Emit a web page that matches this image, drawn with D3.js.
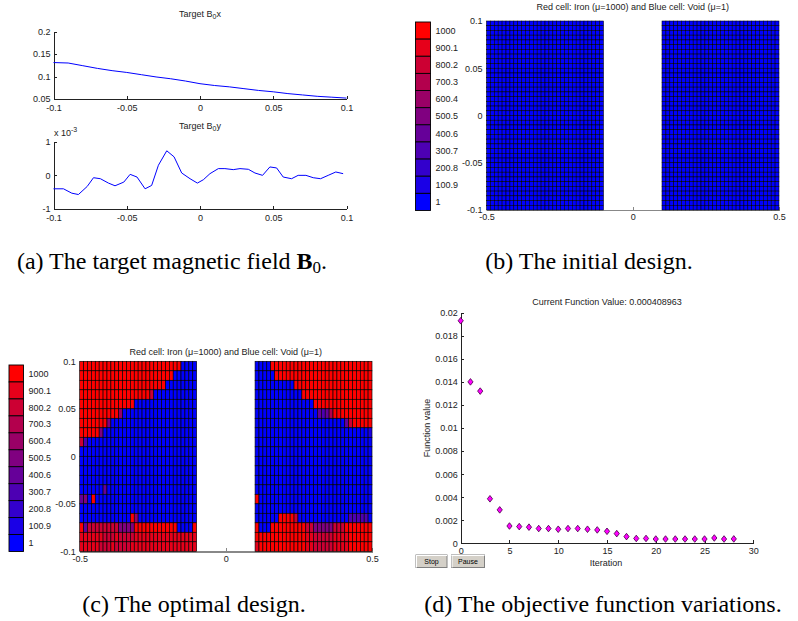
<!DOCTYPE html>
<html><head><meta charset="utf-8">
<script src="https://cdn.jsdelivr.net/npm/d3@7"></script>
<style>
body{margin:0;background:#fff}
svg{display:block}
.ax text,.lbl{font-family:"Liberation Sans",Arial,sans-serif;font-size:9px;fill:#222}
.ax path,.ax line{stroke:#222;shape-rendering:crispEdges}
.gray path,.gray line{stroke:#888}
.cap{font-family:"Liberation Serif","Times New Roman",serif;font-size:24px;fill:#000}
.btn{font-family:"Liberation Sans",Arial,sans-serif;font-size:7px;fill:#000}
</style></head><body>
<svg id="c" width="798" height="621"></svg>
<script>
// ---------- (a) target field ----------
const b0Ticks = [-0.1, -0.05, 0, 0.05, 0.1];
const b0TickLabels = ["-0.1", "-0.05", "0", "0.05", "0.1"];
const b0xPos = [-0.1,-0.09,-0.08,-0.07,-0.06,-0.05,-0.04,-0.03,-0.02,-0.01,0,0.01,0.02,0.03,0.04,0.05,0.06,0.07,0.08,0.09,0.1];
const b0xVal = [0.131,0.130,0.124,0.118,0.113,0.109,0.104,0.099,0.095,0.090,0.084,0.080,0.077,0.073,0.069,0.066,0.062,0.059,0.056,0.054,0.052];
const b0xYTicks = [0.05, 0.1, 0.15, 0.2];
const b0xYTickLabels = ["0.05", "0.1", "0.15", "0.2"];
const b0yPos = [-0.1,-0.0932,-0.0875,-0.083,-0.077,-0.0727,-0.068,-0.0625,-0.058,-0.052,-0.0477,-0.043,-0.0375,-0.033,-0.0284,-0.0227,-0.0177,-0.0125,-0.0068,-0.0018,0.0023,0.0068,0.0125,0.017,0.0227,0.0273,0.033,0.0375,0.0427,0.0477,0.0523,0.0568,0.0625,0.067,0.0723,0.0773,0.0823,0.0875,0.0927,0.0977];
const b0yVal = [-0.40,-0.40,-0.53,-0.57,-0.33,-0.07,-0.10,-0.23,-0.31,-0.20,0.03,-0.05,-0.40,-0.30,0.30,0.73,0.55,0.07,-0.10,-0.23,-0.13,0.05,0.20,0.20,0.17,0.20,0.18,0.07,0.00,0.25,0.22,-0.05,-0.10,0.00,0.00,-0.07,-0.10,0.00,0.10,0.05]; // x 1e-3
const b0yYTicks = [-1, 0, 1];
const b0yYTickLabels = ["-1", "0", "1"];

// ---------- (b),(c) designs ----------
const muLabels = ["1","100.9","200.8","300.7","400.6","500.5","600.4","700.3","800.2","900.1","1000"];
const designX = [-0.5, 0.5];
const designY = [-0.1, 0.1];
const designBlocks = [[-0.5, -0.1], [0.1, 0.5]];
const designXTicks = [-0.5, 0, 0.5];
const designXTickLabels = ["-0.5", "0", "0.5"];
const designYTicks = [-0.1, -0.05, 0, 0.05, 0.1];
const designYTickLabels = ["-0.1", "-0.05", "0", "0.05", "0.1"];
const designTitle = "Red cell: Iron (\u03bc=1000) and Blue cell: Void (\u03bc=1)";
// initial design: every cell is void (level 0)
const initialDesignRow = "000000000000000000000000000000";
const initialRowCount = 40;
// optimal design: level per cell (0 = 1, A = 1000), top row first
const optimalLeft = [
"AAAAAAAAAAAAAAAAAAAAAAAAAA0000",
"AAAAAAAAAAAAAAAAAAAAAAAA000000",
"AAAAAAAAAAAAAAAAAAAAAA00000000",
"AAAAAAAAAAAAAAAAAA800000000000",
"AAAAAAAAAAAAAA0000000000000000",
"AAAAAAAAAA60000000000000000000",
"AAAAAAA50000000000000000000000",
"AAAAA5000000000000000000000000",
"830000000000000000000000000000",
"000000000000000000000000000000",
"000000000000000000000000000000",
"000000000000000000000000000000",
"000000000000000000000000000000",
"000000400000000000000000000000",
"450A00000000000000000000000000",
"000000000000000000000000000000",
"0000000000000A6000000000000000",
"A4888888885555AAAAAAAAAAA0000A",
"999999888988889999999999999999",
"999998889888899999999999999999"];
const optimalRight = [
"0000AAAAAAAAAAAAAAAAAAAAAAAAAA",
"00000AAAAAAAAAAAAAAAAAAAAAAAAA",
"0000000000AAAAAAAAAAAAAAAAAAAA",
"000000000000AAAAAAAAAAAAAAAAAA",
"000000000000000AAAAAAAAAAAAAAA",
"00000000000000004347AAAAAAAAAA",
"0000000000000000000000048AAAAA",
"000000000000000000000000000001",
"000000000000000000000000000000",
"000000000000000000000000000000",
"000000000000000000000000000000",
"000000000000000000000000000000",
"000000000000000000000000000000",
"000000000000000000000000000000",
"A00000000000000000000000000000",
"000000000000000000000000000000",
"000000AAAA80000000000000333330",
"A000AAAAAAAAA8855555888AAAAAAA",
"AAAAAAAAAAAAA99888889999AAAAAA",
"9AAAAAAAAAAAA99888889999AAAAAA"];

// ---------- (d) objective ----------
const iterations = [0,1,2,3,4,5,6,7,8,9,10,11,12,13,14,15,16,17,18,19,20,21,22,23,24,25,26,27,28];
const fValues = [0.0193,0.0140,0.0132,0.00386,0.0029,0.0015,0.00145,0.0014,0.00128,0.00128,0.00122,0.00128,0.00128,0.00122,0.00116,0.00104,0.00084,0.00058,0.00042,0.00042,0.00037,0.00037,0.00037,0.00037,0.00037,0.00037,0.00046,0.00037,0.00038];
const iterTicks = [0,5,10,15,20,25,30];
const fTicks = [0,0.002,0.004,0.006,0.008,0.01,0.012,0.014,0.016,0.018,0.02];
const fTickLabels = ["0","0.002","0.004","0.006","0.008","0.01","0.012","0.014","0.016","0.018","0.02"];
const objTitle = "Current Function Value: 0.000408963";
const buttonLabels = ["Stop", "Pause"];

const svg = d3.select("#c");
svg.append("rect").attr("width",798).attr("height",621).attr("fill","#fff");

const levelColor = lv => d3.rgb(Math.round(25.5*lv), 0, Math.round(255-25.5*lv)).toString();

// ===== (a) =====
function linePanel(cfg){
  const x = d3.scaleLinear().domain([-0.1,0.1]).range([53.5,346.5]);
  const y = d3.scaleLinear().domain(cfg.yDomain).range([cfg.yBottom, cfg.yTop]);
  svg.append("g").attr("class","ax").attr("transform",`translate(0,${cfg.yBottom})`)
    .call(d3.axisBottom(x).tickValues(b0Ticks).tickFormat((d,i)=>b0TickLabels[i]).tickSize(-3).tickSizeOuter(0).tickPadding(6));
  svg.append("g").attr("class","ax").attr("transform",`translate(53.5,0)`)
    .call(d3.axisLeft(y).tickValues(cfg.yTicks).tickFormat((d,i)=>cfg.yLabels[i]).tickSize(-3).tickSizeOuter(0).tickPadding(3));
  svg.append("path").datum(d3.zip(cfg.xs, cfg.ys))
    .attr("fill","none").attr("stroke","#0000ff").attr("stroke-width",1)
    .attr("d", d3.line().x(d=>x(d[0])).y(d=>y(d[1])));
  const t = svg.append("text").attr("class","lbl").attr("x",200).attr("y",cfg.titleY).attr("text-anchor","middle");
  t.append("tspan").text("Target B");
  t.append("tspan").attr("dy",2).attr("font-size","7px").text("0");
  t.append("tspan").attr("dy",-2).text(cfg.comp);
}
linePanel({yDomain:[0.05,0.2], yBottom:99, yTop:31.5, yTicks:b0xYTicks, yLabels:b0xYTickLabels, xs:b0xPos, ys:b0xVal, titleY:17, comp:"x"});
linePanel({yDomain:[-1,1], yBottom:209, yTop:141.7, yTicks:b0yYTicks, yLabels:b0yYTickLabels, xs:b0yPos, ys:b0yVal, titleY:129, comp:"y"});
{
  const e = svg.append("text").attr("class","lbl").attr("x",54).attr("y",136);
  e.append("tspan").text("x 10");
  e.append("tspan").attr("dy",-4).attr("font-size","7px").text("-3");
}

// ===== (b),(c) =====
function drawDesign(cfg){
  const x = d3.scaleLinear().domain(designX).range([cfg.x0, cfg.x1]);
  const y = d3.scaleLinear().domain(designY).range([cfg.y1, cfg.y0]);
  svg.append("g").attr("class","ax gray").attr("transform",`translate(0,${cfg.y1})`)
    .call(d3.axisBottom(x).tickValues(designXTicks).tickFormat((d,i)=>designXTickLabels[i]).tickSize(-3).tickSizeOuter(0).tickPadding(4))
    .call(g=>g.select(".domain").attr("stroke-width",1.5));
  svg.append("g").attr("class","ax").attr("transform",`translate(${cfg.x0},0)`)
    .call(d3.axisLeft(y).tickValues(designYTicks).tickFormat((d,i)=>designYTickLabels[i]).tickSize(0).tickPadding(4))
    .call(g=>g.select(".domain").remove());
  designBlocks.forEach((blk, bi) => {
    const rows = cfg.rows[bi];
    const nR = rows.length, nC = rows[0].length;
    const cw = (blk[1]-blk[0])/nC, rh = (designY[1]-designY[0])/nR;
    const cells = [];
    rows.forEach((r,i) => [...r].forEach((ch,j) => cells.push({
      xa: blk[0]+j*cw, xb: blk[0]+(j+1)*cw, ya: designY[1]-(i+1)*rh, yb: designY[1]-i*rh, lv: parseInt(ch,11)})));
    svg.append("g").selectAll("rect").data(cells).join("rect")
      .attr("x", d=>x(d.xa)).attr("y", d=>y(d.yb))
      .attr("width", d=>x(d.xb)-x(d.xa)).attr("height", d=>y(d.ya)-y(d.yb))
      .attr("fill", d=>levelColor(d.lv)).attr("stroke","#000").attr("stroke-width",cfg.edge);
  });
  // colorbar
  const cbLv = d3.range(muLabels.length).reverse();
  const cb = d3.scaleBand().domain(cbLv).range([cfg.cbY0, cfg.cbY1]);
  svg.append("g").selectAll("rect").data(cbLv).join("rect")
    .attr("x", cfg.cbX).attr("y", d=>cb(d)).attr("width", cfg.cbW).attr("height", cb.bandwidth())
    .attr("fill", d=>levelColor(d)).attr("stroke","#000").attr("stroke-width",0.9);
  svg.append("g").selectAll("text").data(cbLv).join("text").attr("class","lbl")
    .attr("x", cfg.cbX+cfg.cbW+5).attr("y", d=>cb(d)+cb.bandwidth()/2).attr("dy","0.35em")
    .text(d=>muLabels[d]);
  svg.append("text").attr("class","lbl").attr("x",(cfg.x0+cfg.x1)/2).attr("y",cfg.titleY)
    .attr("text-anchor","middle").text(designTitle);
}
drawDesign({x0:486.5, x1:779, y0:21, y1:210, edge:0.55, rows:[Array(initialRowCount).fill(initialDesignRow), Array(initialRowCount).fill(initialDesignRow)],
  cbX:415.5, cbW:15, cbY0:22, cbY1:210.5, titleY:10});
drawDesign({x0:79.7, x1:372, y0:361.3, y1:551.3, edge:0.65, rows:[optimalLeft, optimalRight],
  cbX:9, cbW:14.5, cbY0:365, cbY1:551.5, titleY:355});

// ===== (d) =====
{
  const x = d3.scaleLinear().domain([0,30]).range([460.7,753.3]);
  const y = d3.scaleLinear().domain([0,0.02]).range([543.3,312.7]);
  svg.append("g").attr("class","ax").attr("transform",`translate(0,543.3)`)
    .call(d3.axisBottom(x).tickValues(iterTicks).tickSize(-3).tickSizeOuter(0).tickPadding(4));
  svg.append("g").attr("class","ax").attr("transform",`translate(460.7,0)`)
    .call(d3.axisLeft(y).tickValues(fTicks).tickFormat((d,i)=>fTickLabels[i]).tickSize(-3).tickSizeOuter(0).tickPadding(3));
  svg.append("g").selectAll("path").data(d3.zip(iterations,fValues)).join("path")
    .attr("transform", d=>`translate(${x(d[0])},${y(d[1])})`)
    .attr("d","M0,-3.3L2.6,0L0,3.3L-2.6,0Z")
    .attr("fill","#ff00ff").attr("stroke","#400040").attr("stroke-width",0.8);
  svg.append("text").attr("class","lbl").attr("x",607).attr("y",305).attr("text-anchor","middle").text(objTitle);
  svg.append("text").attr("class","lbl").attr("x",606).attr("y",566).attr("text-anchor","middle").text("Iteration");
  svg.append("text").attr("class","lbl").attr("transform","translate(430,428) rotate(-90)").attr("text-anchor","middle").text("Function value");
  const btnBox = [{x:416,w:31},{x:451.5,w:33}];
  buttonLabels.forEach((label,i)=>{
    const b = btnBox[i];
    const g = svg.append("g");
    g.append("rect").attr("x",b.x).attr("y",555).attr("width",b.w).attr("height",12.5).attr("fill","#d4d0c8").attr("stroke","#808080").attr("stroke-width",1);
    g.append("line").attr("x1",b.x).attr("y1",555.5).attr("x2",b.x+b.w).attr("y2",555.5).attr("stroke","#fff");
    g.append("line").attr("x1",b.x+0.5).attr("y1",555).attr("x2",b.x+0.5).attr("y2",567.5).attr("stroke","#fff");
    g.append("text").attr("class","btn").attr("x",b.x+b.w/2).attr("y",564).attr("text-anchor","middle").text(label);
  });
}

// ===== captions =====
function caption(cx, cy, pre, bold, sub, post){
  const t = svg.append("text").attr("class","cap").attr("x",cx).attr("y",cy).attr("text-anchor","middle");
  t.append("tspan").text(pre);
  if(bold){
    t.append("tspan").attr("font-weight","bold").text(bold);
    t.append("tspan").attr("font-size","17px").attr("dy",4).text(sub);
    t.append("tspan").attr("dy",-4).text(post);
  }
}
caption(172, 269, "(a) The target magnetic field ", "B", "0", ".");
caption(589, 269, "(b) The initial design.");
caption(194, 612, "(c) The optimal design.");
caption(603, 612, "(d) The objective function variations.");
</script></body></html>
